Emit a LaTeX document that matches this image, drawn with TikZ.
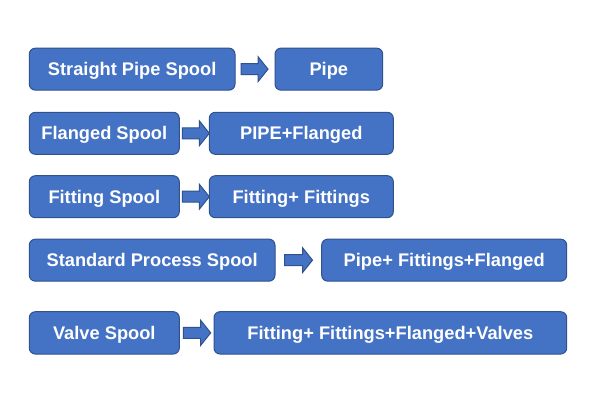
\documentclass[tikz,border=0pt]{standalone}
\usepackage{fontspec}
\setmainfont{Liberation Sans}
\definecolor{boxfill}{HTML}{4472C4}
\definecolor{boxline}{HTML}{2F528F}
\tikzset{
  box/.style={draw=boxline, fill=boxfill, line width=0.75pt, rounded corners=4.5pt,
    text=white, font=\fontsize{13.7}{16}\selectfont\bfseries, inner sep=0pt,
    text height=9.8pt, text depth=0pt, minimum height=31.5pt},
  barrow/.style={draw=boxline, fill=boxfill, line width=0.75pt, line join=miter}
}
% \blockarrow{x start}{x end}{y centre}
\newcommand{\blockarrow}[3]{%
  \draw[barrow] (#1,#3-5.5) -- (#2-10,#3-5.5) -- (#2-10,#3-12.5) -- (#2,#3)
     -- (#2-10,#3+12.5) -- (#2-10,#3+5.5) -- (#1,#3+5.5) -- cycle;}
\begin{document}
\begin{tikzpicture}[x=0.75pt, y=-0.75pt]
\path[use as bounding box, fill=white] (0,0) rectangle (600,407);

\node[box, minimum width=205.7*0.75pt] (a1) at (132.15,69.15) {Straight Pipe Spool};
\node[box, minimum width=107.7*0.75pt] (b1) at (328.85,69.15) {Pipe};
\blockarrow{241}{268}{69.15}

\node[box, minimum width=150*0.75pt] (a2) at (104.3,133.3) {Flanged Spool};
\node[box, minimum width=184*0.75pt] (b2) at (301.3,133.3) {PIPE+Flanged};
\blockarrow{182.3}{209.3}{133.3}

\node[box, minimum width=150*0.75pt] (a3) at (104.3,196.7) {Fitting Spool};
\node[box, minimum width=184*0.75pt] (b3) at (301.3,196.7) {Fitting+ Fittings};
\blockarrow{182.3}{209.3}{196.7}

\node[box, minimum width=245.7*0.75pt] (a4) at (152.15,260.15) {Standard Process Spool};
\node[box, minimum width=245*0.75pt] (b4) at (444.2,260.15) {Pipe+ Fittings+Flanged};
\blockarrow{284.5}{312.5}{260.15}

\node[box, minimum width=150*0.75pt, minimum height=42.3*0.75pt] (a5) at (104.3,332.85) {Valve Spool};
\node[box, minimum width=352.7*0.75pt, minimum height=42.3*0.75pt] (b5) at (390.35,332.85) {Fitting+ Fittings+Flanged+Valves};
\blockarrow{183.3}{210.7}{332.85}
\end{tikzpicture}
\end{document}
